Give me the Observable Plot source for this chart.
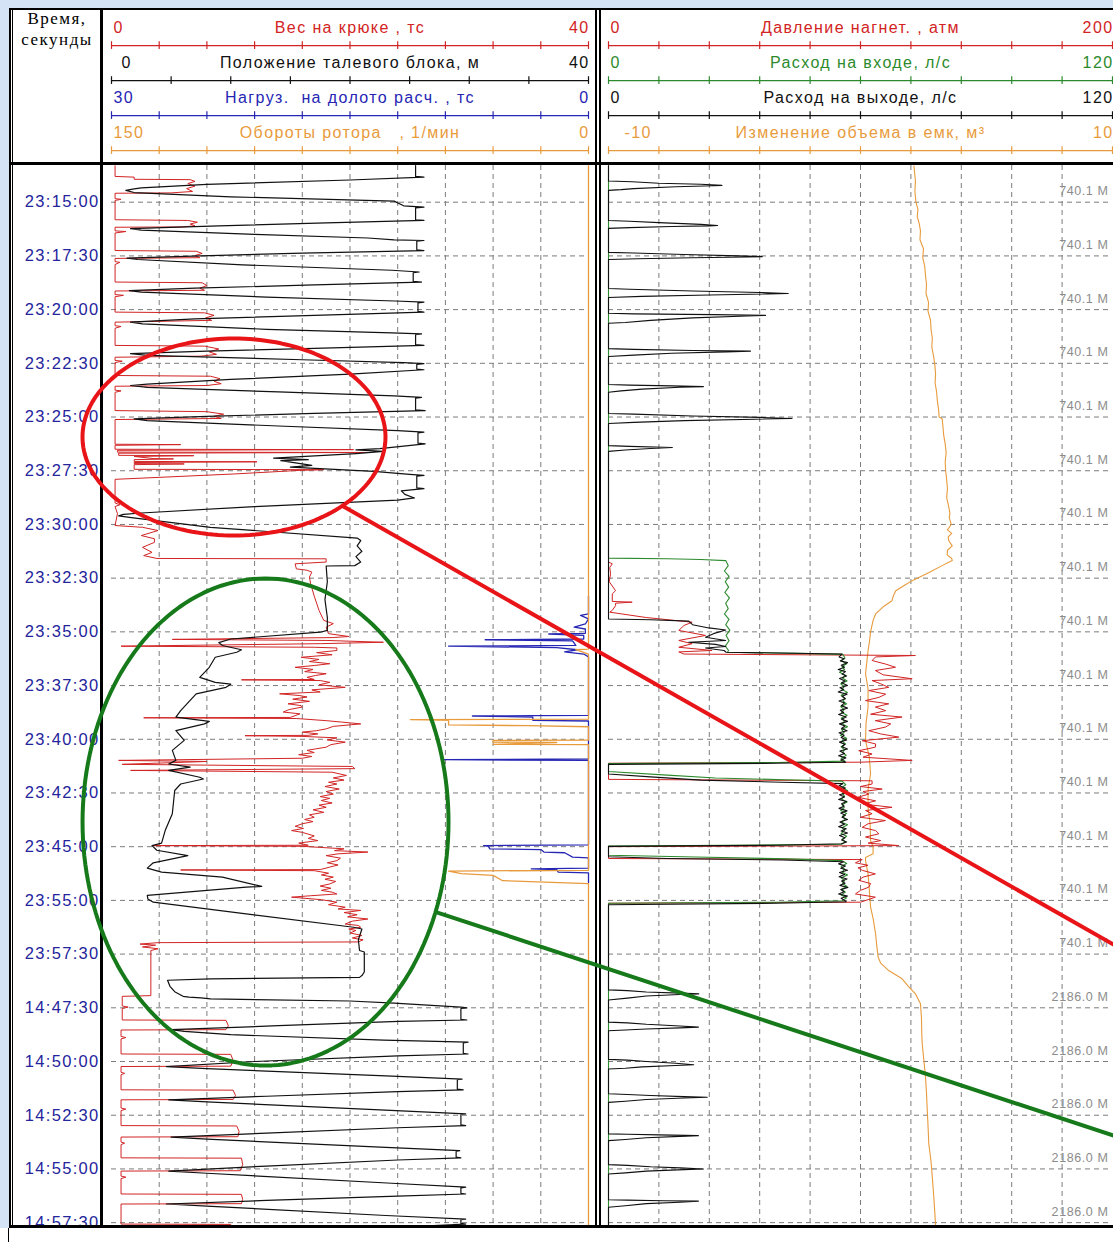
<!DOCTYPE html>
<html><head><meta charset="utf-8">
<script src="https://cdn.jsdelivr.net/npm/d3@7"></script>
<script src="https://cdn.jsdelivr.net/npm/@observablehq/plot@0.6"></script>
<style>
html,body{margin:0;padding:0;background:#fff;}
#root{position:relative;width:1113px;height:1242px;overflow:hidden;background:#fff;font-family:"Liberation Sans",Arial,sans-serif;}
.abs{position:absolute;}
.ln{position:absolute;background:#000;}
.hd{position:absolute;font-family:"Liberation Serif","Times New Roman",serif;font-size:17px;letter-spacing:1.5px;color:#000;width:88px;text-align:center;}
</style></head><body><div id="root"></div>
<script>
// ---------------- DATA ----------------
// time axis: each grid row = 150 s of displayed time; labels as shown
const timeLabels = ["23:15:00","23:17:30","23:20:00","23:22:30","23:25:00","23:27:30","23:30:00","23:32:30","23:35:00","23:37:30","23:40:00","23:42:30","23:45:00","23:55:00","23:57:30","14:47:30","14:50:00","14:52:30","14:55:00","14:57:30"];
const rowSeconds = 150;
const timeDomain = [-102.5, 2858];
const depthLabels = ["740.1 M","740.1 M","740.1 M","740.1 M","740.1 M","740.1 M","740.1 M","740.1 M","740.1 M","740.1 M","740.1 M","740.1 M","740.1 M","740.1 M","740.1 M","2186.0 M","2186.0 M","2186.0 M","2186.0 M","2186.0 M"];

// header scales
const track1Titles = ["Вес на крюке , тс", "Положение талевого блока, м", "Нагруз.  на долото расч. , тс", "Обороты ротора   , 1/мин"];
const track1Min = [0, 0, 30, 150];
const track1Max = [40, 40, 0, 0];
const track1Divs = [10, 8, 10, 10];
const track2Titles = ["Давление нагнет. , атм", "Расход на входе, л/с", "Расход на выходе, л/с", "Изменение объема в емк, м³"];
const track2Min = [0, 0, 0, -10];
const track2Max = [200, 120, 120, 10];
const track2Divs = [10, 10, 10, 10];

// series: [time s, value]
const hookLoad = [
[-102,0.3],[-72,0.3],[-70,1.9],[-64,1.9],[-63,6.6],[-58,7.0],[-52,6.4],[-45,7.0],[-38,6.3],[-30,6.8],[-26,5.0],[-25,0.3],
[-10,0.3],[-8,0.8],[-5,0.3],[49,0.3],[51,6.4],[56,7.2],[61,6.6],[66,7.0],[69,6.0],[70,0.3],
[80,0.3],[82,1.2],[86,0.3],[135,0.3],[137,7.1],[143,7.6],[149,7.0],[155,7.4],[157,0.3],
[166,0.3],[168,0.7],[174,0.3],[223,0.3],[225,7.6],[233,8.0],[240,7.4],[246,7.8],[248,0.3],
[258,0.3],[260,1.0],[264,0.3],[307,0.3],[309,7.8],[316,8.6],[323,7.9],[330,8.4],[335,0.3],
[345,0.3],[347,0.8],[352,0.3],[400,0.3],[402,7.8],[410,9.0],[418,8.2],[425,8.8],[430,7.5],[433,0.3],
[442,0.3],[444,0.9],[448,0.3],[484,0.3],[486,8.3],[493,9.1],[500,8.6],[507,9.2],[512,8.0],[514,0.3],
[525,0.3],[527,0.8],[531,0.3],[582,0.3],[585,8.0],[592,9.4],[598,8.6],[604,9.2],[607,0.3],
[676,0.3],[677,5.8],[679,0.3],[690,0.3],[691,20.3],[693,0.5],[698,0.5],[699,21.5],[701,0.6],[707,0.6],[708,6.9],[710,1.9],[716,3.5],[717,5.2],[719,1.9],[724,1.9],[725,12.2],[727,1.9],[730,1.9],[731,6.1],[733,1.9],[746,1.9],[747,17.8],[749,15.8],[759,10.3],[774,0.3],
[840,0.3],[845,0.7],[850,0.3],[870,0.5],[903,0.3],
[908,2.6],[917,3.9],[931,2.5],[940,3.6],[950,3.6],[964,2.6],[978,3.4],[987,2.7],[995,3.8],[996,18.0],
[1005,18.0],[1010,15.4],[1024,15.5],[1028,16.4],[1033,16.8],[1047,16.6],[1066,16.7],[1100,17.0],[1140,17.4],[1168,17.8],[1177,18.6],[1187,18.0],[1205,18.2],
[1213,19.9],[1216,18.5],[1221,5.1],[1224,18.0],[1229,22.8],[1233,17.5],[1240,0.8],[1243,17.0],[1245,18.9],
[1252,18.9],[1258,17.2],[1264,18.5],[1271,15.9],[1277,17.4],[1283,16.6],[1289,18.3],[1294,17.0],[1299,15.4],[1305,16.9],[1311,16.2],[1317,18.0],[1322,17.1],[1327,16.4],[1333,17.0],[1334,10.9],[1336,17.5],[1341,18.3],[1348,17.4],[1355,19.6],[1362,16.8],[1368,17.5],[1373,14.1],[1378,15.8],[1382,16.4],[1388,15.2],[1394,16.6],[1401,14.8],[1406,15.9],[1410,16.0],[1417,14.9],[1424,14.4],[1429,15.8],[1434,15.4],[1439,15.0],[1440,2.7],[1442,15.5],
[1448,18.0],[1452,19.3],[1457,20.9],[1464,18.6],[1471,18.0],[1476,17.2],[1480,16.0],[1485,17.3],[1489,16.5],[1490,11.2],[1492,16.0],[1496,18.9],[1502,18.1],[1508,19.6],[1515,18.4],[1522,18.0],[1527,17.1],[1531,16.4],[1537,17.0],[1543,15.7],
[1548,16.8],[1553,16.0],[1559,0.6],[1562,8.0],[1570,0.9],[1576,20.2],[1582,20.4],[1587,1.6],[1592,18.5],
[1601,19.7],[1608,18.6],[1614,19.5],[1620,18.2],[1625,18.9],[1632,17.9],[1639,19.1],[1646,18.0],[1653,18.6],[1660,17.5],[1665,18.3],[1671,17.6],[1678,18.5],[1684,17.4],[1690,18.0],[1697,16.9],[1704,17.8],[1711,16.6],[1718,17.0],[1724,16.2],[1730,16.9],[1736,16.0],[1743,15.4],[1749,16.1],[1755,15.1],[1760,16.0],[1764,16.4],[1770,17.0],[1777,16.5],[1783,17.3],[1790,15.7],[1796,16.5],[1797,3.5],[1799,16.0],
[1806,19.5],[1811,18.7],[1815,21.5],[1820,19.0],[1825,18.0],[1832,19.2],[1839,18.9],[1845,18.1],[1851,19.0],[1857,18.3],[1864,17.5],[1865,5.8],[1867,17.0],
[1874,18.2],[1879,17.6],[1885,18.6],[1891,17.9],[1897,18.8],[1904,18.3],[1910,17.5],[1916,18.4],[1922,17.6],[1927,18.5],[1932,18.9],[1937,16.7],[1941,15.1],[1948,17.6],[1955,18.9],[1962,18.2],[1969,19.6],[1974,19.0],[1978,20.9],[1984,19.5],[1990,20.6],[1996,19.8],[2002,21.5],[2008,20.2],[2016,19.6],[2020,20.7],[2025,20.9],[2030,19.9],[2034,20.5],[2041,20.0],[2048,21.0],[2055,20.2],[2060,21.1],[2066,20.7],
[2068,3.9],[2072,2.4],[2075,3.7],[2080,2.6],[2085,3.9],[2090,3.3],[2216,3.3],[2218,0.9],
[2245,0.9],[2248,1.4],[2252,0.9],[2284,0.9],
[2285,9.6],[2300,9.8],[2311,9.6],[2312,0.8],
[2330,0.8],[2333,1.2],[2337,0.8],[2379,0.8],[2380,10.0],[2397,10.2],[2413,10.0],[2414,0.8],
[2430,0.8],[2433,1.1],[2437,0.8],[2479,0.8],[2480,10.2],[2495,10.4],[2506,10.2],[2507,0.8],
[2530,0.8],[2533,1.2],[2537,0.8],[2579,0.8],[2580,10.5],[2595,10.7],[2610,10.6],[2611,0.8],
[2625,0.8],[2628,1.1],[2632,0.8],[2669,0.8],[2670,10.9],[2688,11.0],[2705,10.8],[2706,0.8],
[2720,0.8],[2723,1.2],[2727,0.8],[2770,0.8],[2771,10.9],[2785,11.0],[2797,10.9],[2798,0.8],
[2854,0.8],[2855,10.0],[2858,10.0]
];

const blockPosition = [
[-102,25.5],[-72,25.5],[-70,26.2],
[-62,20],[-50,8],[-40,2.5],[-37,1.9],[-33,1.2],[-27,1.9],
[-15,10],[-3,23.7],[10,24.5],[14,26.2],[16,25.5],[49,25.5],[51,26.2],
[58,18],[66,9],[74,1.6],
[78,2.5],[90,12],[100,21.5],[105,23.7],[107,26.2],[109,25.6],[133,25.6],[135,26.2],
[142,16],[150,7.5],[156,1.3],
[160,2.2],[175,11],[190,23.5],[195,25.8],[197,25.3],[221,25.3],[223,26.0],
[231,17],[240,7],[247,1.5],
[251,2.5],[265,13],[276,23.8],[279,26.2],[281,25.7],[305,25.7],[307,26.2],
[316,17],[326,7],[335,1.6],
[340,2.6],[355,13],[365,23.5],[368,26.0],[370,25.5],[398,25.5],[400,26.2],
[408,17],[416,8],[423,1.6],
[428,3],[440,16],[448,24.5],[451,26.2],[453,25.6],[466,25.6],[468,26.2],
[480,20],[495,10],[508,3],[512,1.6],
[517,3],[530,14],[541,23.7],[545,26.0],[547,25.5],[580,25.5],[582,26.3],
[590,17],[598,8],[605,1.9],
[610,3],[625,14],[638,24],[642,26.2],[644,25.7],[673,25.7],[675,26.3],
[688,22.5],[692,20.5],[696,22.8],[702,20.5],[715,13.6],[719,16.5],[722,14.2],[735,16.8],[740,15.0],
[752,22],[760,25.0],[763,26.2],[765,25.6],[798,25.6],[800,26.2],
[806,24.3],[816,24.6],[826,25.4],[832,24.0],
[850,12],[868,2.5],[872,1.0],[876,0.6],[880,1.5],
[908,8.3],[938,20.6],
[945,20.9],[960,20.6],[975,21.0],[990,20.5],[1005,20.9],[1015,20.4],[1016,18.0],[1060,18.1],[1110,17.9],[1160,18.1],[1196,18.1],
[1201,17.5],[1220,10.0],[1230,9.0],[1238,9.3],[1250,10.9],[1257,10.5],[1271,8.7],[1299,8.2],[1327,7.4],[1341,8.7],[1346,10.0],[1355,9.6],[1373,7.1],[1420,5.8],[1438,5.4],[1450,8.2],[1457,7.8],[1476,5.4],[1503,6.1],[1531,5.1],[1559,5.4],[1569,4.8],[1578,6.6],[1587,4.8],[1606,7.4],[1611,7.7],[1625,5.8],[1643,5.3],[1708,5.1],[1755,4.5],[1790,4.2],[1797,3.4],[1810,3.8],[1825,6.4],[1845,3.5],[1860,3.0],[1871,4.2],[1885,9.3],[1911,12.6],[1913,11.3],[1936,3.0],[1946,3.05],[1955,3.5],[2025,20.3],[2030,21.0],[2060,20.7],[2090,20.8],[2094,21.2],[2150,21.2],[2160,21.0],[2165,20.8],
[2169,8.3],[2173,4.7],[2190,4.9],[2205,5.3],[2218,6.0],[2220,6.5],[2222,7.5],[2225,8.3],[2231,20.0],[2237,23.7],[2248,29.3],
[2250,29.8],[2252,29.3],[2282,29.3],[2284,29.8],
[2288,24.1],[2300,14],[2311,5.0],
[2316,6.1],[2325,10],[2340,22.8],[2346,29.9],[2348,29.5],[2377,29.5],[2379,29.9],
[2384,24],[2400,12],[2414,4.6],
[2420,8],[2440,23],[2449,29.4],[2451,29.0],[2477,29.0],[2479,29.5],
[2484,24],[2497,13],[2507,4.8],
[2513,8],[2535,22.5],[2546,29.7],[2548,29.3],[2577,29.3],[2579,29.7],
[2585,24],[2600,13],[2611,5.0],
[2617,8],[2640,23],[2649,29.2],[2651,28.9],[2667,28.9],[2669,29.3],
[2675,24],[2692,13],[2706,4.8],
[2712,8],[2740,23.5],[2751,29.7],[2753,29.3],[2768,29.3],[2770,29.7],
[2776,24],[2788,13],[2798,4.6],
[2804,8],[2830,23],[2840,29.7],[2842,29.3],[2852,29.3],[2854,29.7],[2858,27]
];

const bitLoad = [
[1100,0],[1150,0],[1154,0.5],[1164,0],[1178,0.2],[1187,0.9],[1192,0.2],[1204,0.2],[1206,2.5],[1210,0.3],[1220,0.3],[1222,6.5],[1225,1.0],[1238,0.8],[1240,8.8],[1244,2.0],[1250,0.7],[1256,1.5],[1262,0.3],[1270,0],
[1433,0],[1434,3.5],[1435,7.3],[1438,3.5],[1447,3.5],[1449,0],[1555,0],[1557,9.1],[1559,0],
[1795,0],[1797,6.6],[1799,6.3],[1806,6.2],[1808,3.0],[1815,2.8],[1817,1.5],[1829,1.0],[1831,0],
[1860,0],[1862,3.6],[1864,2.0],[1871,1.9],[1873,0],[1900,0]
];

const rotorSpeed = [
[-102,0],[1248,0],[1250,4],[1256,2],[1262,0],[1444,0],[1445,56],[1447,44],[1460,44],[1462,19],[1465,0],
[1502,0],[1503,30],[1508,30],[1509,10],[1514,30],[1515,0],
[1866,0],[1868,44],[1875,40],[1880,30],[1895,27],[1903,0],[2858,0]
];

const pumpPressure = [
[-102,0],[1005,0],[1010,1.5],[1020,0.5],[1038,0.8],[1060,0.3],[1085,2.8],[1094,1.5],[1115,1.5],[1117,9.4],[1120,2.8],[1127,2.8],[1140,1.5],[1145,0.5],[1160,15],[1173,33.2],[1182,30],[1196,27.9],[1210,38.5],[1224,27.9],[1233,33.2],[1243,27.9],[1252,41.1],[1256,27.9],[1262,30],
[1266,121.8],[1270,106],[1280,104.6],[1290,110],[1299,113.9],[1308,105.9],[1320,109],[1331,120.5],[1336,104.6],[1345,108],[1355,111.2],[1364,103.3],[1374,110],[1383,107.3],[1392,102],[1401,111.2],[1410,105.9],[1420,110],[1430,104],[1438,116.5],[1448,105.9],[1457,112],[1466,109.9],[1476,103.3],[1485,108],[1494,115.2],[1504,100.7],[1513,106],[1522,105.9],[1532,99.3],[1541,104.6],[1550,101],[1559,120.5],
[1564,100],[1567,0],[1612,0],[1616,104.6],[1625,104.6],[1632,100],[1639,108.6],[1646,101],[1653,103.3],[1662,99],[1672,106],[1681,101],[1690,112.5],[1699,102],[1708,104.6],[1718,100],[1727,109.9],[1736,103],[1746,100.7],[1755,106],[1764,107.3],[1773,102],[1783,108],[1790,103],[1797,115.2],
[1800,0],[1833,0],[1836,100.7],[1845,98],[1852,103],[1859,99],[1866,100.7],[1876,105.9],[1885,101],[1894,99.3],[1903,104],[1913,103.3],[1922,100],[1932,98],[1941,105.9],[1948,103],[1955,100],
[1958,0],[2858,0]
];

const flowIn = [
[-102,0],[994,0],[996,14],[998,22],[1001,27.9],[1015,28.5],[1030,27.6],[1045,28.7],[1060,27.8],[1075,28.6],[1090,27.7],[1105,28.8],[1120,27.9],[1135,28.5],[1150,27.6],[1165,28.7],[1180,27.9],[1195,28.9],[1210,28.0],[1225,28.7],[1240,27.8],[1252,28.6],[1257,28.3],[1260,45],[1263,55.8],
[1273,56.3],[1281,55.4],[1289,56.7],[1297,55.6],[1305,56.2],[1313,55.0],[1321,56.4],[1329,55.7],[1337,56.8],[1345,55.3],[1353,56.1],[1361,55.6],[1369,56.9],[1377,55.4],[1385,56.3],[1393,55.8],[1401,56.7],[1409,55.3],[1417,56.1],[1425,55.5],[1433,56.8],[1441,55.4],[1449,56.2],[1457,55.7],[1465,56.9],[1473,55.5],[1481,56.1],[1489,55.2],[1497,56.7],[1505,55.6],[1513,56.4],[1521,55.4],[1529,56.2],[1537,55.7],[1545,56.6],[1553,55.4],[1561,56.3],
[1565,40],[1568,0],[1590,0],[1600,14],[1608,25.5],[1613,42.1],[1617,55.6],
[1627,56.5],[1635,55.5],[1643,56.9],[1651,55.7],[1659,56.2],[1667,55.4],[1675,56.8],[1683,55.6],[1691,56.1],[1699,55.3],[1707,56.7],[1715,55.7],[1723,56.4],[1731,55.4],[1739,56.9],[1747,55.6],[1755,56.2],[1763,55.4],[1771,56.7],[1779,55.7],[1787,56.4],[1793,55.5],
[1795,40],[1798,0],[1824,0],[1829,20.7],[1834,42.9],[1839,55.6],
[1847,56.7],[1855,55.4],[1863,56.2],[1871,55.6],[1879,56.9],[1887,55.4],[1895,56.2],[1903,55.7],[1911,56.8],[1919,55.5],[1927,56.4],[1935,55.4],[1943,56.7],[1951,55.6],
[1955,40],[1958,0],[2858,0]
];

const flowOut = [
[-102,0],
[-59,0],[-57,5.6],[-53,12],[-50,22],[-47,27],[-46,25],[-43,16],[-38,6],[-35,3],[-33,0],
[51,0],[53,5],[57,12],[62,22],[65,26],[66,24],[68,15],[71,5],[73,0],
[140,0],[142,6],[146,18],[150,31],[152,36.6],[153,33],[155,20],[158,7],[160,0],
[241,0],[243,5],[248,20],[252,36],[255,42.8],[256,38],[259,24],[263,8],[266,0],
[310,0],[312,6],[314,25],[316,37.4],[318,33],[323,20],[330,10],[336,4],[338,0],
[409,0],[411,6],[414,20],[416,33.8],[418,28],[422,15],[427,6],[431,0],
[509,0],[511,5],[513,15],[515,22.6],[517,17],[522,8],[527,3],[531,0],
[590,0],[592,6],[597,20],[601,36],[604,43.7],[606,35],[610,18],[615,6],[618,0],
[680,0],[682,5],[685,15.2],[688,10],[692,4],[696,0],
[1164,0],[1166,10],[1170,19.1],[1180,20],[1189,23.9],[1195,27.9],[1205,25],[1215,23.1],[1224,27.9],[1229,19.1],[1235,25.5],[1241,27.9],[1245,23.1],[1252,27.5],[1257,28.0],
[1262,55.6],[1270,54.9],[1275,56.1],[1281,55.2],[1286,56.9],[1293,55.4],[1299,56.2],[1305,54.7],[1311,56.4],[1318,55.6],[1323,56.7],[1330,55.0],[1337,56.3],[1342,55.5],[1350,56.9],[1356,55.1],[1361,56.0],[1368,54.7],[1374,56.8],[1380,55.6],[1387,56.4],[1393,54.9],[1399,56.2],[1406,55.4],[1413,56.9],[1419,55.2],[1425,56.0],[1431,54.8],[1438,56.6],[1444,55.5],[1450,56.9],[1457,55.0],[1463,56.3],[1470,55.5],[1476,56.8],[1482,54.9],[1489,56.1],[1495,55.4],[1502,56.7],[1508,55.0],[1514,56.3],[1521,55.6],[1527,56.9],[1533,55.1],[1540,56.2],[1546,54.8],[1552,56.5],[1558,55.3],[1564,56.5],
[1567,40],[1570,0],[1597,0],[1605,10],[1614,22],[1620,41.3],[1624,55.8],
[1630,54.9],[1636,56.4],[1642,55.4],[1649,56.9],[1655,55.0],[1661,56.2],[1668,54.8],[1674,56.7],[1680,55.5],[1687,56.1],[1693,54.9],[1700,56.8],[1706,55.3],[1712,56.4],[1718,55.6],[1724,56.9],[1731,55.1],[1737,56.2],[1744,54.8],[1750,56.6],[1756,55.4],[1762,56.9],[1769,55.0],[1775,56.3],[1781,55.5],[1787,56.7],[1792,55.4],
[1796,40],[1799,0],[1828,0],[1833,14],[1837,41.3],[1842,56],
[1848,54.8],[1854,56.4],[1860,55.3],[1866,56.9],[1872,55.0],[1878,56.2],[1884,54.9],[1890,56.8],[1896,55.5],[1902,56.3],[1908,55.1],[1914,57.0],[1920,55.3],[1926,56.1],[1932,54.8],[1938,56.9],[1944,55.4],[1950,56.2],[1954,56.6],
[1958,40],[1962,0],
[2200,0],[2202,4.5],[2206,9],[2209,17],[2211,21.5],[2213,17],[2217,9],[2223,4.5],[2228,0],
[2290,0],[2292,4.5],[2296,9],[2301,17],[2304,21.4],[2306,17],[2309,9],[2312,4],[2314,0],
[2394,0],[2396,4.5],[2400,9],[2405,16],[2409,20.3],[2411,16],[2415,8],[2419,4],[2421,0],
[2490,0],[2492,4.5],[2495,10],[2498,18],[2500,23.5],[2502,18],[2506,9],[2511,4],[2514,0],
[2602,0],[2603,4.5],[2605,12],[2607,21.4],[2609,17],[2613,9],[2618,4],[2621,0],
[2688,0],[2690,4.5],[2694,10],[2697,17],[2700,22.6],[2702,18],[2706,9],[2711,4],[2714,0],
[2786,0],[2787,4.5],[2789,13],[2790,21.4],[2793,17],[2797,9],[2803,4],[2807,0],
[2858,0]
];

const pitVolume = [
[-102,2.12],[-80,2.15],[-60,2.18],[-30,2.16],[0,2.2],[20,2.28],[40,2.25],[60,2.33],[80,2.38],[105,2.36],[130,2.5],[155,2.47],[180,2.55],[205,2.58],[230,2.62],[255,2.6],[280,2.7],[305,2.68],[330,2.78],[355,2.8],[380,2.85],[405,2.83],[430,2.9],[455,2.95],[480,2.98],[505,2.96],[530,3.02],[555,3.05],[580,3.1],[600,3.12],[605,3.24],[625,3.27],[650,3.3],[675,3.36],[700,3.4],[725,3.36],[750,3.38],[775,3.42],[800,3.45],[825,3.42],[850,3.5],[870,3.55],[880,3.52],[900,3.6],[915,3.45],[925,3.62],[935,3.48],[945,3.5],[960,3.64],[972,3.45],[985,3.44],[995,3.62],[1001,3.64],[1015,3.24],[1035,2.7],[1057,2.05],[1070,1.75],[1085,1.4],[1100,1.3],[1113,1.25],[1130,0.9],[1150,0.6],[1168,0.5],[1200,0.4],[1230,0.35],[1252,0.3],[1285,0.25],[1317,0.2],[1360,0.3],[1410,0.3],[1455,0.22],[1504,0.2],[1550,0.35],[1597,0.4],[1640,0.3],[1690,0.3],[1735,0.38],[1783,0.4],[1800,0.5],[1820,0.5],[1830,0.2],[1839,0.2],[1876,0.3],[1920,0.35],[1969,0.4],[2000,0.5],[2044,0.6],[2080,0.65],[2109,0.7],[2125,0.8],[2146,1.12],[2169,1.65],[2190,1.9],[2211,2.18],[2239,2.38],[2280,2.42],[2320,2.43],[2351,2.45],[2400,2.52],[2444,2.58],[2490,2.62],[2537,2.65],[2580,2.68],[2630,2.71],[2680,2.8],[2723,2.85],[2790,2.92],[2858,2.98]
];

// annotations (track-1 fraction, time s)
const redEllipse = {cx: 0.2568, cy: 655.8, rx: 0.3176, ry: 275.1};
const redPointer = [[0.4864, 849.9], [2.15, 2110.8]];
const greenEllipse = {cx: 0.3229, cy: 1731.1, rx: 0.3836, ry: 680.1};
const greenPointer = [[0.6834, 1983.9], [2.15, 2628.4]];

// ---------------- STYLE ----------------
const C = {red:"#d22424", black:"#111111", blue:"#2626b4", orange:"#e89b3c", green:"#2c8a2c",
  time:"#24249c", grid:"#7c7c7c", depth:"#8c8c8c", annRed:"#e81418", annGreen:"#167a1a"};
const FONT = '"Liberation Sans", Arial, sans-serif';
const track1Colors = [C.red, C.black, C.blue, C.orange];
const track2Colors = [C.red, C.green, C.black, C.orange];
const track1Indent = [2, 10, 2, 2];
const track2Indent = [2, 2, 2, 16];

// ---------------- BUILD ----------------
const root = document.getElementById("root");
function place(el, left, top, z) { el.style.position = "absolute"; el.style.left = left + "px"; el.style.top = top + "px"; el.style.zIndex = z; root.appendChild(el); }
function box(cls, left, top, w, h, z, bg) { const d = document.createElement("div"); d.className = cls; d.style.left = left+"px"; d.style.top = top+"px"; d.style.width = w+"px"; d.style.height = h+"px"; d.style.zIndex = z; if (bg) d.style.background = bg; root.appendChild(d); return d; }

function toTable(series, lo, hi) { return series.map(([t, v]) => ({t, f: (v - lo) / (hi - lo)})); }
const tickRows = timeLabels.map((label, i) => ({t: i * rowSeconds, label}));
const depthRows = depthLabels.map((label, i) => ({t: i * rowSeconds, label}));
const gridX = d3.range(1, 10).map(k => k / 10);

function header(titles, mins, maxs, divs, colors, indent, width, ml, mr) {
  const rows = titles.map((title, i) => ({i, title, lo: String(mins[i]), hi: String(maxs[i]), color: colors[i], dx: indent[i]}));
  const ticks = rows.flatMap(r => d3.range(divs[r.i] + 1).map(k => ({i: r.i, f: k / divs[r.i], color: r.color})));
  const leftMarks = rows.map(r => Plot.text([r], {x: 0, y: d => d.i - 0.5, text: "lo", textAnchor: "start", fill: "color", fontSize: 16, dx: r.dx}));
  return Plot.plot({
    width, height: 155, marginLeft: ml, marginRight: mr, marginTop: 0, marginBottom: 0,
    x: {domain: [0, 1], axis: null},
    y: {domain: [-1.06, 3.37], range: [0, 155], axis: null},
    color: {type: "identity"},
    style: {background: "transparent", fontFamily: FONT, whiteSpace: "pre", letterSpacing: "1.4px", overflow: "visible"},
    marks: [
      Plot.ruleY(rows, {y: "i", x1: 0, x2: 1, stroke: "color", strokeWidth: 1.2}),
      Plot.ruleX(ticks, {x: "f", y1: d => d.i - 0.11, y2: d => d.i + 0.11, stroke: "color", strokeWidth: 1.2}),
      ...leftMarks,
      Plot.text(rows, {x: 0.5, y: d => d.i - 0.5, text: "title", fill: "color", fontSize: 16}),
      Plot.text(rows, {x: 1, y: d => d.i - 0.5, text: "hi", textAnchor: "end", fill: "color", fontSize: 16, dx: 1})
    ]
  });
}

function track(width, ml, mr, marks, bg) {
  return Plot.plot({
    width, height: 1060, marginLeft: ml, marginRight: mr, marginTop: 0, marginBottom: 0,
    x: {domain: [0, 1], axis: null},
    y: {domain: timeDomain, range: [0, 1060], axis: null},
    style: {background: bg || "transparent", fontFamily: FONT},
    marks
  });
}

const gridMarks = [
  Plot.ruleY(tickRows, {y: "t", stroke: C.grid, strokeDasharray: "5,4", strokeWidth: 1}),
  Plot.ruleX(gridX, {stroke: C.grid, strokeDasharray: "5,4", strokeWidth: 1})
];

// track 1
const t1 = track(597, 111, 9, [
  ...gridMarks,
  Plot.text(tickRows, {y: "t", text: "label", frameAnchor: "left", textAnchor: "end", dx: -12, fill: C.time, fontSize: 16.5}),
  Plot.line(toTable(hookLoad, track1Min[0], track1Max[0]), {x: "f", y: "t", stroke: C.red, strokeWidth: 1}),
  Plot.line(toTable(blockPosition, track1Min[1], track1Max[1]), {x: "f", y: "t", stroke: C.black, strokeWidth: 1.2}),
  Plot.line(toTable(bitLoad, track1Min[2], track1Max[2]), {x: "f", y: "t", stroke: C.blue, strokeWidth: 1.3}),
  Plot.line(toTable(rotorSpeed, track1Min[3], track1Max[3]), {x: "f", y: "t", stroke: C.orange, strokeWidth: 1.3})
]);
t1.style.letterSpacing = "1.3px";
place(t1, 0, 165, 2);

// track 2
const t2 = track(513, 8, 1, [
  ...gridMarks,
  Plot.text(depthRows, {y: "t", text: "label", frameAnchor: "right", textAnchor: "end", dx: -4, dy: -11, fill: C.depth, fontSize: 12.5}),
  Plot.line(toTable(pitVolume, track2Min[3], track2Max[3]), {x: "f", y: "t", stroke: C.orange, strokeWidth: 1.1}),
  Plot.line(toTable(pumpPressure, track2Min[0], track2Max[0]), {x: "f", y: "t", stroke: C.red, strokeWidth: 1}),
  Plot.line(toTable(flowIn, track2Min[1], track2Max[1]), {x: "f", y: "t", stroke: C.green, strokeWidth: 1.1}),
  Plot.line(toTable(flowOut, track2Min[2], track2Max[2]), {x: "f", y: "t", stroke: C.black, strokeWidth: 1.1})
]);
t2.style.letterSpacing = "0.6px";
place(t2, 600, 165, 2);

// headers
place(header(track1Titles, track1Min, track1Max, track1Divs, track1Colors, track1Indent, 597, 111, 9), 0, 8, 2);
place(header(track2Titles, track2Min, track2Max, track2Divs, track2Colors, track2Indent, 513, 8, 1), 600, 8, 2);

// frame
box("abs", 0, 0, 9, 1228, 1, "#d4e3f6");
box("abs", 0, 0, 1113, 8, 1, "#d4e3f6");
box("ln", 9, 8, 2, 1220, 3);
box("ln", 12, 8, 1, 1220, 3);
box("ln", 100, 8, 3, 1220, 3);
box("ln", 595, 8, 2, 1220, 3);
box("ln", 599, 8, 2, 1220, 3);
box("ln", 9, 8, 1104, 2, 3);
box("ln", 9, 162, 1104, 3, 3);
box("ln", 9, 1225, 1104, 3, 3);
box("ln", 8, 1228, 1, 14, 3);
const h1 = document.createElement("div"); h1.className = "hd"; h1.textContent = "Время,"; place(h1, 13, 9, 4);
const h2 = document.createElement("div"); h2.className = "hd"; h2.textContent = "секунды"; place(h2, 13, 30, 4);

// annotations
function ellipse(e) { return d3.range(0, 361, 2).map(a => ({f: e.cx + e.rx * Math.cos(a * Math.PI / 180), t: e.cy + e.ry * Math.sin(a * Math.PI / 180)})); }
const ann = track(597, 111, 9, [
  Plot.line(redPointer.map(([f, t]) => ({f, t})), {x: "f", y: "t", stroke: C.annRed, strokeWidth: 4}),
  Plot.line(ellipse(redEllipse), {x: "f", y: "t", stroke: C.annRed, strokeWidth: 4}),
  Plot.line(greenPointer.map(([f, t]) => ({f, t})), {x: "f", y: "t", stroke: C.annGreen, strokeWidth: 4}),
  Plot.line(ellipse(greenEllipse), {x: "f", y: "t", stroke: C.annGreen, strokeWidth: 4})
]);
ann.style.overflow = "visible";
ann.style.maxWidth = "none";
place(ann, 0, 165, 5);
</script></body></html>
